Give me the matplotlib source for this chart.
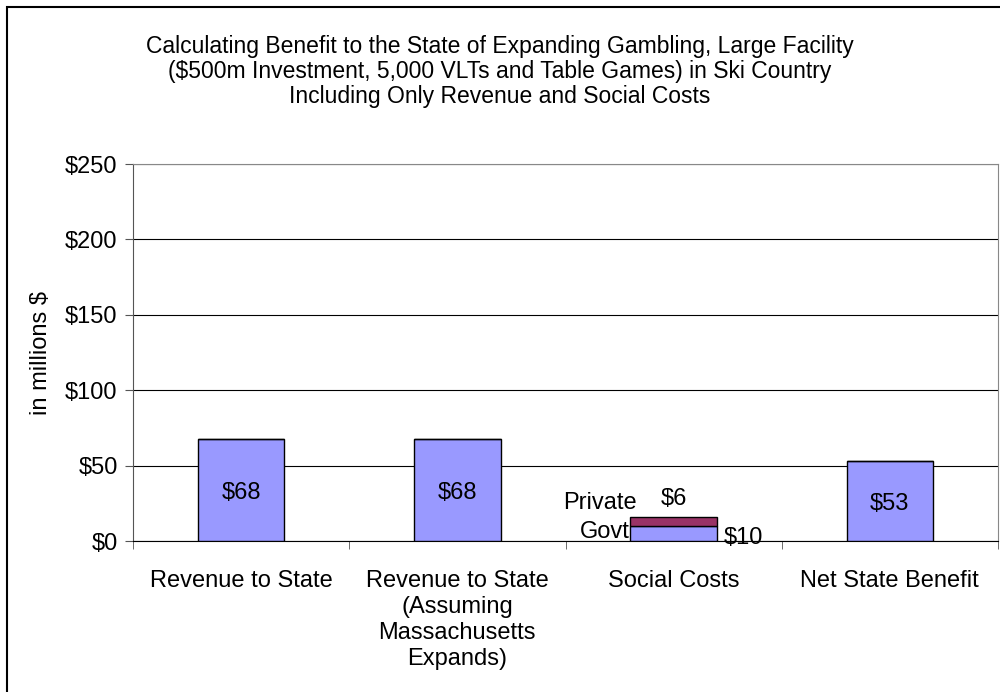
import numpy as np
import matplotlib.pyplot as plt
from matplotlib.patches import Rectangle

plt.rcParams['font.family'] = ['Liberation Sans', 'DejaVu Sans']

kategorie = ["Revenue to State",
             "Revenue to State\n(Assuming\nMassachusetts\nExpands)",
             "Social Costs",
             "Net State Benefit"]
wartosci = [68, 68, 10, 53]      # niebieska czesc (Govt dla kosztow)
prywatne = [0, 0, 6, 0]          # czesc Private
etykiety = ["$68", "$68", "$10", "$53"]
os_y_ticki = [0, 50, 100, 150, 200, 250]
tytul = ("Calculating Benefit to the State of Expanding Gambling, Large Facility\n"
         "($500m Investment, 5,000 VLTs and Table Games) in Ski Country\n"
         "Including Only Revenue and Social Costs")

niebieski = '#9999FF'
bordowy = '#993366'
fs = 17

fig = plt.figure(figsize=(10, 6.92), dpi=100)
ax = fig.add_axes([0.133, 0.218, 0.865, 0.545])

x = np.arange(len(kategorie))
ax.bar(x, wartosci, width=0.4, color=niebieski, edgecolor='black', linewidth=1, zorder=3)
ax.bar(x, prywatne, width=0.4, bottom=wartosci, color=bordowy, edgecolor='black',
       linewidth=1, zorder=3)

for i in range(len(kategorie)):
    if prywatne[i] == 0:
        ax.text(x[i], wartosci[i] / 2 - 2, etykiety[i], ha='center', va='center', fontsize=fs, zorder=4)

# etykiety kosztow spolecznych
i = 2
ax.text(x[i] + 0.23, wartosci[i] / 2 - 3, etykiety[i], ha='left', va='center', fontsize=fs, zorder=4)
ax.text(x[i], wartosci[i] + prywatne[i] + 12, "$" + str(prywatne[i]), ha='center', va='center',
        fontsize=fs, zorder=4)
ax.text(x[i] - 0.17, wartosci[i] + prywatne[i] + 9, "Private", ha='right', va='center',
        fontsize=fs, zorder=4)
ax.text(x[i] - 0.205, wartosci[i] / 2 + 1, "Govt", ha='right', va='center', fontsize=fs, zorder=4)

ax.set_xlim(-0.5, len(kategorie) - 0.5)
ax.set_ylim(0, 250)
ax.set_yticks(os_y_ticki)
ax.set_yticklabels(["$" + str(v) for v in os_y_ticki], fontsize=fs)
ax.yaxis.grid(True, color='black', linewidth=0.8, zorder=0)

ax.set_xticks(x)
ax.set_xticklabels(kategorie, fontsize=fs, linespacing=1.22, va='top')
ax.tick_params(axis='x', length=0, pad=21)
ax.set_xticks(np.arange(-0.5, len(kategorie)), minor=True)
ax.tick_params(axis='x', which='minor', length=6, color='#555555')
ax.tick_params(axis='y', length=6, color='#555555', pad=5)

ax.set_ylabel("in millions $", fontsize=fs)
ax.yaxis.set_label_coords(-0.094, 0.5)

for s in ['top', 'right']:
    ax.spines[s].set_color('#888888')
ax.spines['left'].set_color('#555555')
ax.spines['bottom'].set_color('black')

fig.text(0.5, 0.95, tytul, ha='center', va='top', fontsize=16.5, linespacing=1.12)

fig.patches.append(Rectangle((0.007, -0.1), 1.2, 1.09, transform=fig.transFigure,
                             fill=False, edgecolor='black', linewidth=1.5))

fig.savefig('out.png', dpi=100)
